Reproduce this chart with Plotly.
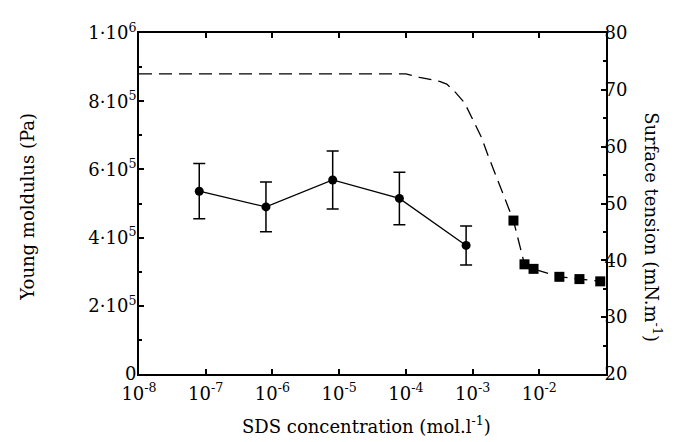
import plotly.graph_objects as go

# Young modulus vs SDS concentration
conc_young = [8e-8, 8e-7, 8e-6, 8e-5, 8e-4]
young = [5.36e5, 4.90e5, 5.69e5, 5.15e5, 3.77e5]
young_err = [0.81e5, 0.73e5, 0.85e5, 0.77e5, 0.57e5]

# Surface tension measurements (squares)
conc_st = [4.1e-3, 6.0e-3, 8.2e-3, 2.0e-2, 4.0e-2, 8.2e-2]
tension = [47.0, 39.3, 38.5, 37.1, 36.7, 36.3]

# dashed guide curve for surface tension
conc_curve = [1e-8, 1e-4, 1.6e-4, 3.2e-4, 4.1e-4, 5.5e-4, 7.6e-4, 1.35e-3, 1.7e-3,
              3.2e-3, 4.1e-3, 6.0e-3, 8.2e-3, 2.0e-2, 4.0e-2, 8.2e-2]
tension_curve = [72.8, 72.8, 72.2, 71.5, 71.0, 69.6, 67.7, 61.7, 58.5,
                 50.4, 47.0, 39.3, 38.5, 37.1, 36.7, 36.3]

x_ticks = [1e-8, 1e-7, 1e-6, 1e-5, 1e-4, 1e-3, 1e-2]
x_ticktext = ["10<sup>-8</sup>", "10<sup>-7</sup>", "10<sup>-6</sup>", "10<sup>-5</sup>",
              "10<sup>-4</sup>", "10<sup>-3</sup>", "10<sup>-2</sup>"]
y_ticks = [0, 2e5, 4e5, 6e5, 8e5, 1e6]
y_ticktext = ["0", "2·10<sup>5</sup>", "4·10<sup>5</sup>", "6·10<sup>5</sup>",
              "8·10<sup>5</sup>", "1·10<sup>6</sup>"]
y2_ticks = [20, 30, 40, 50, 60, 70, 80]

FONT = "DejaVu Serif"
fs = 18

fig = go.Figure()

fig.add_trace(go.Scatter(
    x=conc_curve, y=tension_curve, yaxis="y2", mode="lines",
    line=dict(color="black", width=1.3, dash="13px,7px"),
    showlegend=False))

fig.add_trace(go.Scatter(
    x=conc_st, y=tension, yaxis="y2", mode="markers",
    marker=dict(symbol="square", size=10, color="black"),
    showlegend=False))

fig.add_trace(go.Scatter(
    x=conc_young, y=young, mode="lines+markers",
    line=dict(color="black", width=1.3),
    marker=dict(symbol="circle", size=9, color="black"),
    error_y=dict(type="data", array=young_err, visible=True,
                 color="black", thickness=1.5, width=6),
    showlegend=False))

axis_common = dict(showgrid=False, zeroline=False, showline=True, linecolor="black",
                   linewidth=2, ticks="inside", tickcolor="black", tickwidth=1.5,
                   ticklen=5, tickfont=dict(family=FONT, size=fs, color="black"))

fig.update_layout(
    width=690, height=442,
    margin=dict(l=131, r=92, t=19, b=76),
    paper_bgcolor="white", plot_bgcolor="white",
    font=dict(family=FONT, size=fs, color="black"),
    xaxis=dict(type="log", range=[-8, -1], tickvals=x_ticks, ticktext=x_ticktext,
               mirror="ticks", ticklabelstandoff=2, **axis_common),
    yaxis=dict(range=[0, 1e6], tickvals=y_ticks, ticktext=y_ticktext, ticklabelstandoff=-3,
               minor=dict(dtick=1e5, ticks="inside", ticklen=3, tickcolor="black", tickwidth=1.5),
               **axis_common),
    yaxis2=dict(range=[20, 80], tickvals=y2_ticks, overlaying="y", side="right",
                ticklabelstandoff=-7,
                minor=dict(dtick=5, ticks="inside", ticklen=3, tickcolor="black", tickwidth=1.5),
                **axis_common),
    annotations=[
        dict(text="SDS concentration (mol.l<sup>-1</sup>)", xref="paper", yref="paper",
             x=0.488, y=-0.15, xanchor="center", yanchor="middle", showarrow=False,
             font=dict(family=FONT, size=fs)),
        dict(text="Young moldulus (Pa)", xref="paper", yref="paper",
             x=-0.238, y=0.49, xanchor="center", yanchor="middle", showarrow=False,
             textangle=-90, font=dict(family=FONT, size=fs)),
        dict(text="Surface tension (mN.m<sup>-1</sup>)", xref="paper", yref="paper",
             x=1.099, y=0.43, xanchor="center", yanchor="middle", showarrow=False,
             textangle=90, font=dict(family=FONT, size=fs)),
    ],
)

fig.write_html("out.html")
